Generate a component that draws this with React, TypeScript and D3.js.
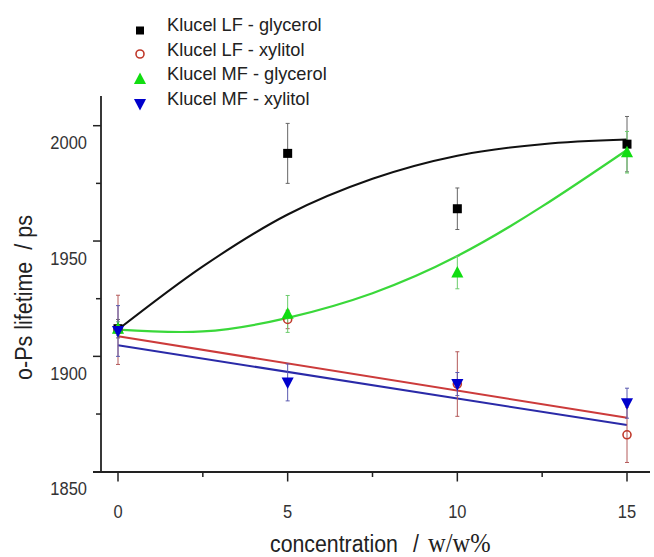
import React from "react";
import * as d3 from "d3";

const concentrations = [0, 5, 10, 15];

// measured points
const lfGlycerol = [1912, 1988, 1964, 1992];
const lfGlycerolErr = [4, 13, 9, 12];
const lfXylitol = [1911.5, 1916, 1888, 1866];
const lfXylitolErr = [15, 4, 14, 12];
const mfGlycerol = [1912, 1918.4, 1936.3, 1988.5];
const mfGlycerolErr = [3, 8, 7, 9];
const mfXylitol = [1911, 1888.7, 1888, 1879.7];
const mfXylitolErr = [11, 8, 5, 6.5];

// fitted curves
const fitX = [0, 2.5, 5, 7.5, 10, 12.5, 15];
const lfGlycerolFit = [1911.6, 1939, 1961.5, 1977, 1987, 1992, 1994];
const mfGlycerolFit = [1911.6, 1910.8, 1916.7, 1927.4, 1943.5, 1965, 1989.5];
const lineX = [0, 15];
const lfXylitolFit = [1908.7, 1873.4];
const mfXylitolFit = [1904.8, 1870.2];

const yMajor = [1900, 1950, 2000];
const yLabels = [1850, 1900, 1950, 2000];
const yMinor = [1875, 1925, 1975];
const xMajor = [0, 5, 10, 15];
const xMinor = [2.5, 7.5, 12.5];

const legendLabels = [
  "Klucel LF - glycerol",
  "Klucel LF - xylitol",
  "Klucel MF - glycerol",
  "Klucel MF - xylitol",
];

const SANS = "'Liberation Sans', Arial, Helvetica, sans-serif";
const SERIF = "'Liberation Serif', 'Times New Roman', serif";

export default function App() {
  const x = d3.scaleLinear().domain([0, 15]).range([118, 627]);
  const y = d3.scaleLinear().domain([1850, 2000]).range([471.7, 125.7]);

  const curve = (xs: number[], ys: number[], c: d3.CurveFactory) =>
    d3
      .line<number>()
      .x((_, i) => x(xs[i]))
      .y((v) => y(v))
      .curve(c)(ys) || "";

  const triUp = (s: number) =>
    `M0,${-s * 0.6}L${s * 0.55},${s * 0.45}L${-s * 0.55},${s * 0.45}Z`;
  const triDown = (s: number) =>
    `M0,${s * 0.6}L${s * 0.55},${-s * 0.45}L${-s * 0.55},${-s * 0.45}Z`;

  const errBars = (vals: number[], errs: number[], color: string, key: string) =>
    vals.map((v, i) => {
      const cx = x(concentrations[i]);
      const t = y(v + errs[i]);
      const b = y(v - errs[i]);
      return (
        <g key={key + i} stroke={color} strokeWidth={1}>
          <line x1={cx} x2={cx} y1={t} y2={b} />
          <line x1={cx - 2} x2={cx + 2} y1={t} y2={t} />
          <line x1={cx - 2} x2={cx + 2} y1={b} y2={b} />
        </g>
      );
    });

  const axisColor = "#222";

  return (
    <svg
      width={654}
      height={557}
      style={{ position: "absolute", left: 0, top: 0, background: "#fff" }}
    >
      <rect width={654} height={557} fill="#fff" />

      {/* axes */}
      <line x1={101} x2={101} y1={96} y2={472} stroke={axisColor} strokeWidth={1.8} />
      <line x1={93} x2={650} y1={472} y2={472} stroke={axisColor} strokeWidth={1.8} />
      {yMajor.map((v) => (
        <line key={"ym" + v} x1={93} x2={101} y1={y(v)} y2={y(v)} stroke={axisColor} strokeWidth={1.5} />
      ))}
      {yMinor.map((v) => (
        <line key={"yn" + v} x1={96} x2={101} y1={y(v)} y2={y(v)} stroke={axisColor} strokeWidth={1.5} />
      ))}
      {xMajor.map((v) => (
        <line key={"xm" + v} x1={x(v)} x2={x(v)} y1={472} y2={481.5} stroke={axisColor} strokeWidth={1.5} />
      ))}
      {xMinor.map((v) => (
        <line key={"xn" + v} x1={x(v)} x2={x(v)} y1={472} y2={477} stroke={axisColor} strokeWidth={1.5} />
      ))}
      {yLabels.map((v) => (
        <text
          key={"yl" + v}
          transform={`translate(87,${y(v) + 17.5}) scale(1,1.1)`}
          textAnchor="end"
          dominantBaseline="central"
          fontFamily={SANS}
          fontSize={16.5}
          fill="#333"
        >
          {v}
        </text>
      ))}
      {xMajor.map((v) => (
        <text
          key={"xl" + v}
          transform={`translate(${x(v)},511.5) scale(1,1.1)`}
          textAnchor="middle"
          dominantBaseline="central"
          fontFamily={SANS}
          fontSize={16.5}
          fill="#333"
        >
          {v}
        </text>
      ))}

      {/* axis titles */}
      <g transform="translate(0,552) scale(1,1.12)">
        <text x={270} y={0} fontFamily={SANS} fontSize={21.3} fill="#222">
          concentration
        </text>
        <text x={413} y={0} fontFamily={SANS} fontSize={21.3} fill="#222">
          /
        </text>
        <text x={428} y={0} fontFamily={SERIF} fontSize={24.5} fill="#222">
          w/w%
        </text>
      </g>
      <text
        transform="translate(31.5,297.5) rotate(-90) scale(1,1.15)"
        textAnchor="middle"
        fontFamily={SANS}
        fontSize={21.5}
        fill="#222"
        style={{ whiteSpace: "pre" }}
      >
        {"o-Ps lifetime  / ps"}
      </text>

      {/* fits */}
      <path d={curve(fitX, lfGlycerolFit, d3.curveMonotoneX)} fill="none" stroke="#111" strokeWidth={2} />
      <path d={curve(fitX, mfGlycerolFit, d3.curveNatural)} fill="none" stroke="#3ad83a" strokeWidth={2.2} />
      <path d={curve(lineX, lfXylitolFit, d3.curveLinear)} fill="none" stroke="#cc3b3b" strokeWidth={2} />
      <path d={curve(lineX, mfXylitolFit, d3.curveLinear)} fill="none" stroke="#2a2aa8" strokeWidth={2} />

      {/* error bars */}
      {errBars(lfGlycerol, lfGlycerolErr, "#666", "eb")}
      {errBars(lfXylitol, lfXylitolErr, "#b45a5a", "er")}
      {errBars(mfGlycerol, mfGlycerolErr, "#6ccc6c", "eg")}
      {errBars(mfXylitol, mfXylitolErr, "#5a5ab0", "eu")}

      {/* markers */}
      {lfGlycerol.map((v, i) => (
        <rect key={"mb" + i} x={x(concentrations[i]) - 4.5} y={y(v) - 4.5} width={9} height={9} fill="#000" />
      ))}
      {lfXylitol.map((v, i) => (
        <circle key={"mr" + i} cx={x(concentrations[i])} cy={y(v)} r={4} fill="none" stroke="#c0392b" strokeWidth={1.6} />
      ))}
      {mfGlycerol.map((v, i) => (
        <path key={"mg" + i} d={triUp(11)} transform={`translate(${x(concentrations[i])},${y(v)})`} fill="#11dd11" />
      ))}
      {mfXylitol.map((v, i) => (
        <path key={"mu" + i} d={triDown(11)} transform={`translate(${x(concentrations[i])},${y(v)})`} fill="#0000cc" />
      ))}

      {/* legend */}
      <rect x={136} y={26.5} width={8} height={8} fill="#000" />
      <circle cx={140} cy={54} r={4} fill="none" stroke="#c0392b" strokeWidth={1.6} />
      <path d={triUp(11)} transform="translate(140,79)" fill="#11dd11" />
      <path d={triDown(11)} transform="translate(140,104)" fill="#0000cc" />
      {legendLabels.map((t, i) => (
        <text key={"lg" + i} x={167} y={31 + i * 24.7} fontFamily={SANS} fontSize={18.2} fill="#222">
          {t}
        </text>
      ))}
    </svg>
  );
}
